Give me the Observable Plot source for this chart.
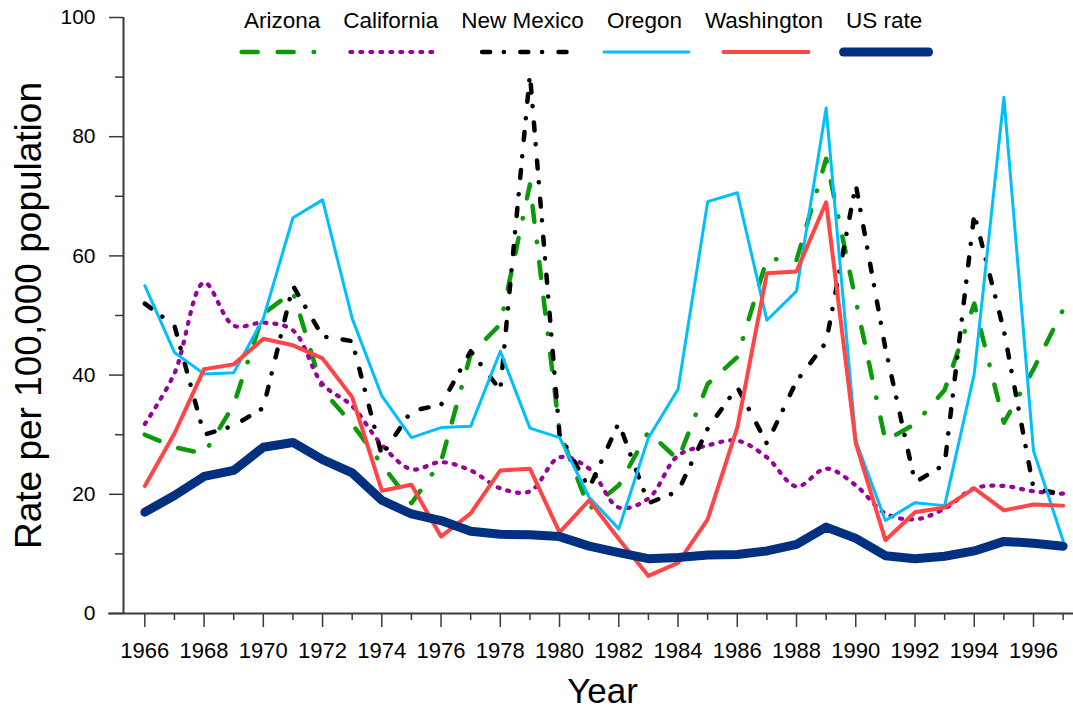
<!DOCTYPE html>
<html>
<head>
<meta charset="utf-8">
<script src="https://cdn.jsdelivr.net/npm/d3@7"></script>
<script src="https://cdn.jsdelivr.net/npm/@observablehq/plot@0.6"></script>
<style>
  html, body { margin: 0; padding: 0; background: #fff; }
  #chart { position: relative; width: 1073px; height: 710px; font-family: "Liberation Sans", Arial, sans-serif; }
  #chart svg { display: block; }
</style>
</head>
<body>
<div id="chart"></div>
<script>
// ---- Data ----
const years = [1966,1967,1968,1969,1970,1971,1972,1973,1974,1975,1976,1977,1978,1979,1980,1981,
               1982,1983,1984,1985,1986,1987,1988,1989,1990,1991,1992,1993,1994,1995,1996,1997];

const arizona    = [30.0,27.9,26.8,35.0,50.3,54.0,37.5,31.8,25.0,18.5,25.5,43.5,48.5,72.0,30.5,17.5,
                    21.5,30.5,25.8,38.5,43.0,59.5,59.3,76.3,52.5,29.0,31.8,37.5,52.0,32.0,41.0,51.0];
const california = [31.8,40.3,55.5,48.3,48.8,47.5,38.5,34.8,28.3,24.2,25.4,24.0,21.0,20.5,26.2,24.3,
                    17.8,19.3,26.5,28.2,29.0,26.2,21.3,24.3,21.5,16.8,15.8,17.6,21.0,21.4,20.5,20.1];
const newMexico  = [52.0,48.3,30.0,31.5,34.5,55.0,46.5,45.7,26.5,34.0,35.0,44.0,37.5,90.5,30.0,21.0,
                    32.0,18.5,20.5,31.0,38.0,28.5,39.0,45.5,72.0,44.5,22.0,25.0,67.0,47.5,21.0,20.0];
const oregon     = [55.0,43.8,40.2,40.4,49.5,66.4,69.4,49.5,36.5,29.5,31.2,31.4,44.0,31.1,29.5,19.5,
                    14.2,29.5,37.6,69.1,70.6,49.2,54.1,84.8,29.0,15.6,18.6,18.1,40.2,86.6,27.3,12.2];
const washington = [21.4,30.2,41.0,41.8,46.1,45.0,42.8,36.3,20.6,21.6,12.9,16.8,24.0,24.3,13.6,19.0,
                    12.5,6.3,8.5,15.8,31.2,57.1,57.4,69.0,28.6,12.3,17.0,17.8,21.0,17.3,18.3,18.1];
const usRate     = [17.0,19.8,23.0,24.0,27.9,28.7,25.8,23.6,19.0,16.7,15.6,13.8,13.3,13.2,12.9,11.3,
                    10.2,9.2,9.4,9.8,9.9,10.5,11.6,14.5,12.6,9.7,9.2,9.6,10.5,12.1,11.8,11.3];

const seriesNames = ["Arizona","California","New Mexico","Oregon","Washington","US rate"];
const seriesValues = [arizona, california, newMexico, oregon, washington, usRate];

const yMajorTicks = [0,20,40,60,80,100];
const yMinorTicks = [10,30,50,70,90];
const xMajorTicks = [1966,1968,1970,1972,1974,1976,1978,1980,1982,1984,1986,1988,1990,1992,1994,1996];
const xMinorTicks = [1967,1969,1971,1973,1975,1977,1979,1981,1983,1985,1987,1989,1991,1993,1995,1997];

const xTitle = "Year";
const yTitle = "Rate per 100,000 population";

// ---- Styles ----
const styles = {
  "Arizona":    {stroke: "#0a9a0a", strokeWidth: 4.5, strokeDasharray: "16,20,16,20,0.5,20", curve: "linear"},
  "California": {stroke: "#990099", strokeWidth: 4.2, strokeDasharray: "2,8", curve: "catmull-rom"},
  "New Mexico": {stroke: "#000000", strokeWidth: 4.5, strokeDasharray: "8,13.7,0.1,16.4", curve: "linear"},
  "Oregon":     {stroke: "#00bfff", strokeWidth: 3, strokeDasharray: null, curve: "linear"},
  "Washington": {stroke: "#ff4545", strokeWidth: 4, strokeDasharray: null, curve: "linear"},
  "US rate":    {stroke: "#00307f", strokeWidth: 9, strokeDasharray: null, curve: "linear"}
};

// ---- Build table ----
const tables = seriesNames.map((name, k) =>
  years.map((yr, i) => ({series: name, year: yr, value: seriesValues[k][i]})));

const axisColor = "#3a3a3a";
const xDomain = [1965.28, 1997.35];
const yAxisAt = 1965.28;
const xAxisStart = 1964.78;

const lineMarks = tables.map((t, k) => {
  const s = styles[seriesNames[k]];
  const opts = {x: "year", y: "value", stroke: s.stroke, strokeWidth: s.strokeWidth,
                strokeLinecap: "round", strokeLinejoin: "round", curve: s.curve};
  if (s.strokeDasharray) opts.strokeDasharray = s.strokeDasharray;
  return Plot.line(t, opts);
});

const chart = Plot.plot({
  width: 1073,
  height: 710,
  marginTop: 17,
  marginBottom: 97,
  marginLeft: 123,
  marginRight: 0,
  style: {fontFamily: "'Liberation Sans', Arial, sans-serif", background: "white", color: "black", overflow: "visible"},
  x: {domain: xDomain},
  y: {domain: [0, 100]},
  marks: [
    Plot.axisY({ticks: yMajorTicks, tickSize: 14, tickPadding: 14, fontSize: 21, label: null,
                stroke: axisColor, strokeWidth: 1.5, color: "black"}),
    Plot.axisY({ticks: yMinorTicks, tickSize: 8, tickFormat: () => "", label: null,
                stroke: axisColor, strokeWidth: 1.5}),
    Plot.axisX({ticks: xMajorTicks, tickSize: 14, tickPadding: 15, fontSize: 22, label: null,
                tickFormat: d => String(d), stroke: axisColor, strokeWidth: 1.5}),
    Plot.axisX({ticks: xMinorTicks, tickSize: 7, tickFormat: () => "", label: null,
                stroke: axisColor, strokeWidth: 1.5}),
    Plot.ruleY([0], {x1: xAxisStart, x2: xDomain[1], stroke: axisColor, strokeWidth: 2}),
    Plot.ruleX([yAxisAt], {y1: 0, y2: 100, stroke: axisColor, strokeWidth: 2}),
    ...lineMarks,
    Plot.text([yTitle], {frameAnchor: "left", rotate: -90, dx: -83, fontSize: 37, lineAnchor: "bottom",
                         textAnchor: "middle", fill: "black"}),
    Plot.text([xTitle], {frameAnchor: "bottom", lineAnchor: "bottom", dy: 89, dx: 4, fontSize: 35,
                         textAnchor: "middle", fill: "black"})
  ]
});

const container = document.getElementById("chart");
container.appendChild(chart);

// ---- Legend (overlay at top of the plot area) ----
const legend = d3.select(container).append("svg")
  .attr("width", 1073).attr("height", 70)
  .style("position", "absolute").style("left", "0px").style("top", "0px")
  .style("font-family", "'Liberation Sans', Arial, sans-serif");

let cursor = 244;
const legendGap = 23;
const sampleLen = 85;
seriesNames.forEach(name => {
  const s = styles[name];
  const t = legend.append("text")
    .attr("x", cursor).attr("y", 28)
    .attr("font-size", 22.5).attr("fill", "black")
    .text(name);
  const w = t.node().getComputedTextLength();
  const c = cursor + w / 2;
  const ln = legend.append("line")
    .attr("x1", c - sampleLen / 2 + 2).attr("x2", c + sampleLen / 2 + 2)
    .attr("y1", 52).attr("y2", 52)
    .attr("stroke", s.stroke).attr("stroke-width", s.strokeWidth)
    .attr("stroke-linecap", "round");
  if (s.strokeDasharray) ln.attr("stroke-dasharray", s.strokeDasharray);
  cursor += w + legendGap;
});
</script>
</body>
</html>
